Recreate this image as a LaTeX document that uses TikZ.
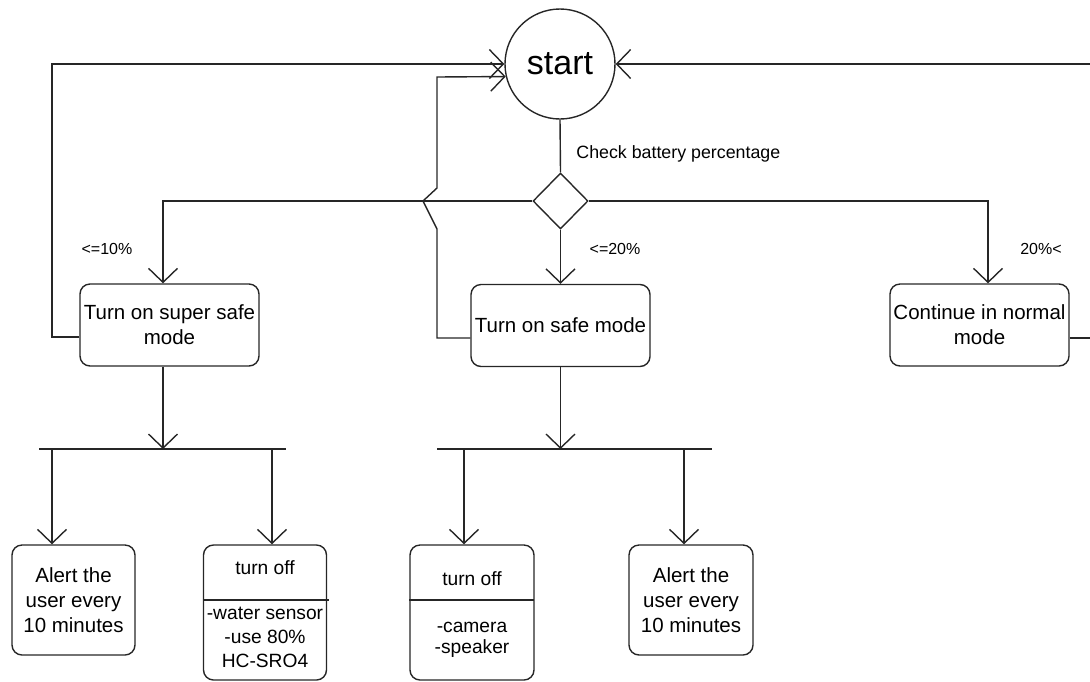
\documentclass[tikz,border=0pt]{standalone}
\usepackage{fontspec}
\setmainfont{Liberation Sans}
\usetikzlibrary{shapes.geometric,arrows.meta}
\begin{document}
\begin{tikzpicture}[x=0.5pt,y=-0.5pt,
 ln/.style={line width=0.7pt, draw=black!85},
 arr/.style={ln, -{Straight Barb[length=7pt,width=14.5pt]}},
 box/.style={ln, rounded corners=5pt, rectangle, minimum width=89.5pt, minimum height=41pt, align=center, font=\fontsize{10.25}{12.5}\selectfont, inner sep=0pt},
 sbox/.style={ln, rounded corners=5pt, rectangle, minimum width=61.5pt, minimum height=67.5pt, inner sep=0pt},
 lbl/.style={font=\fontsize{8}{9.6}\selectfont, inner sep=0pt},
 txt/.style={font=\fontsize{9.6}{12}\selectfont, align=center, inner sep=0pt}]
\clip (0,0) rectangle (1090,681);
% main nodes
\node[ln, circle, minimum size=55pt, inner sep=0pt, font=\fontsize{17}{20}\selectfont] (start) at (560,64) {\raisebox{-1.5pt}{start}};
\node[ln, diamond, minimum width=27.5pt, minimum height=28pt, inner sep=0pt] (dia) at (560.5,201) {};
\node[lbl, font=\fontsize{8.9}{10}\selectfont, anchor=west] (chk) at (576,154) {Check battery percentage};
\node[box] (ss) at (169.5,325) {Turn on super safe\\mode};
\node[box] (safe) at (560.5,325.5) {Turn on safe mode};
\node[box] (norm) at (979.5,325) {Continue in normal\\mode};
\node[lbl] (l10) at (107,249) {<=10\%};
\node[lbl] (l20) at (615,249) {<=20\%};
\node[lbl] (g20) at (1041,249) {20\%<};
% bottom nodes
\node[box, minimum width=61.5pt, minimum height=55pt] (a1) at (73.5,600) {Alert the\\user every\\10 minutes};
\node[sbox] (t1) at (265,612.5) {};
\node[txt] (t1a) at (265,568) {turn off};
\node[txt] (t1b) at (265,637) {-water sensor\\-use 80\%\\HC-SRO4};
\node[sbox, minimum width=62pt] (t2) at (472,612.5) {};
\node[txt] (t2a) at (472,579) {turn off};
\node[txt, font=\fontsize{9.6}{10.5}\selectfont] (t2b) at (472,639.5) {-camera\\-speaker};
\node[box, minimum width=62pt, minimum height=55pt] (a2) at (691,600) {Alert the\\user every\\10 minutes};
% coordinates
\coordinate (d1) at (329,600);
\coordinate (d2) at (534,600);
\coordinate (b1) at (163,449);
\coordinate (b1l) at (52,449);
\coordinate (b1r) at (272,449);
\coordinate (bar1a) at (39,449);
\coordinate (bar1b) at (286,449);
\coordinate (b2) at (560.5,449);
\coordinate (b2l) at (464,449);
\coordinate (b2r) at (684,449);
\coordinate (bar2a) at (437,449);
\coordinate (bar2b) at (712,449);
\coordinate (lx) at (52,0);
\coordinate (rx) at (1100,0);
\coordinate (nx) at (988,0);
% dividers
\draw[ln] (t1.west |- d1) -- (d1);
\draw[ln] (t2.west |- d2) -- (d2);
% connectors
\draw[ln] (start.south) -- (dia.north);
\draw[arr] (dia.west) -| (ss.north -| b1);
\draw[arr] (dia.east) -| (norm.north -| nx);
\draw[arr] (dia.south) -- (safe.north);
\draw[arr] ([yshift=-6pt]ss.west) -| (lx |- start) -- (start.west);
\draw[arr] ([yshift=-6.5pt]norm.east) -| (rx |- start) -- (start.east);
\draw[arr] ([yshift=-6.25pt]safe.west) -- (437,338) -- (437,229) -- (423,201) -- (437,188) -- (437,77) -- (start.193.7);
\draw[arr] (ss.south -| b1) -- (b1);
\draw[ln] (bar1a) -- (bar1b);
\draw[arr] (b1l) -- (a1.north -| b1l);
\draw[arr] (b1r) -- (t1.north -| b1r);
\draw[arr] (safe.south) -- (b2);
\draw[ln] (bar2a) -- (bar2b);
\draw[arr] (b2l) -- (t2.north -| b2l);
\draw[arr] (b2r) -- (a2.north -| b2r);
\end{tikzpicture}
\end{document}
